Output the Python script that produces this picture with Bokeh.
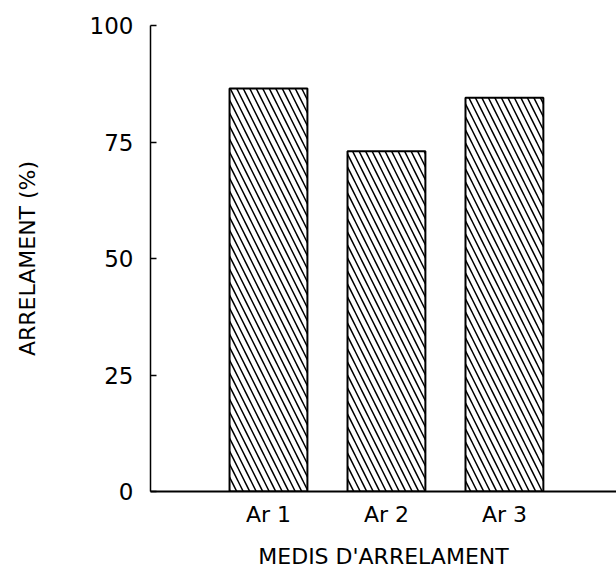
from bokeh.plotting import figure
from bokeh.models import Range1d, FixedTicker
from bokeh.embed import file_html
from bokeh.resources import INLINE

categories = ["Ar 1", "Ar 2", "Ar 3"]
positions = [1, 2, 3]
values = [86.5, 73.0, 84.5]
y_ticks = [0, 25, 50, 75, 100]

FONT = "DejaVu Sans"

p = figure(width=616, height=571, output_backend="svg", toolbar_location=None,
           x_range=Range1d(0, 3.95), y_range=Range1d(0, 100),
           min_border_left=150, min_border_top=25, min_border_right=0,
           min_border_bottom=76)

p.vbar(x=positions, top=values, bottom=0, width=0.66,
       fill_color="white", line_color="black", line_width=2,
       hatch_pattern="\\", hatch_scale=13, hatch_weight=1.5, hatch_color="black")

p.outline_line_color = None
p.xgrid.visible = False
p.ygrid.visible = False

ya = p.yaxis[0]
ya.ticker = FixedTicker(ticks=y_ticks)
ya.major_tick_in = 6
ya.major_tick_out = 0
ya.minor_tick_line_color = None
ya.axis_line_width = 1.5
ya.major_tick_line_width = 1.5
ya.major_label_standoff = 17
ya.major_label_text_font = FONT
ya.major_label_text_font_size = "23px"
ya.major_label_text_color = "black"
ya.axis_label = "ARRELAMENT (%)"
ya.axis_label_text_font = FONT
ya.axis_label_text_font_size = "22px"
ya.axis_label_text_font_style = "normal"
ya.axis_label_text_color = "black"
ya.axis_label_standoff = 47

xa = p.xaxis[0]
xa.ticker = FixedTicker(ticks=positions)
xa.major_label_overrides = {pos: cat for pos, cat in zip(positions, categories)}
xa.major_tick_in = 0
xa.major_tick_out = 0
xa.minor_tick_line_color = None
xa.axis_line_width = 2
xa.major_label_standoff = 10
xa.major_label_text_font = FONT
xa.major_label_text_font_size = "22px"
xa.major_label_text_color = "black"
xa.axis_label = "MEDIS D'ARRELAMENT"
xa.axis_label_text_font = FONT
xa.axis_label_text_font_size = "22px"
xa.axis_label_text_font_style = "normal"
xa.axis_label_text_color = "black"
xa.axis_label_standoff = 14

open("out.html", "w").write(file_html(p, INLINE))
